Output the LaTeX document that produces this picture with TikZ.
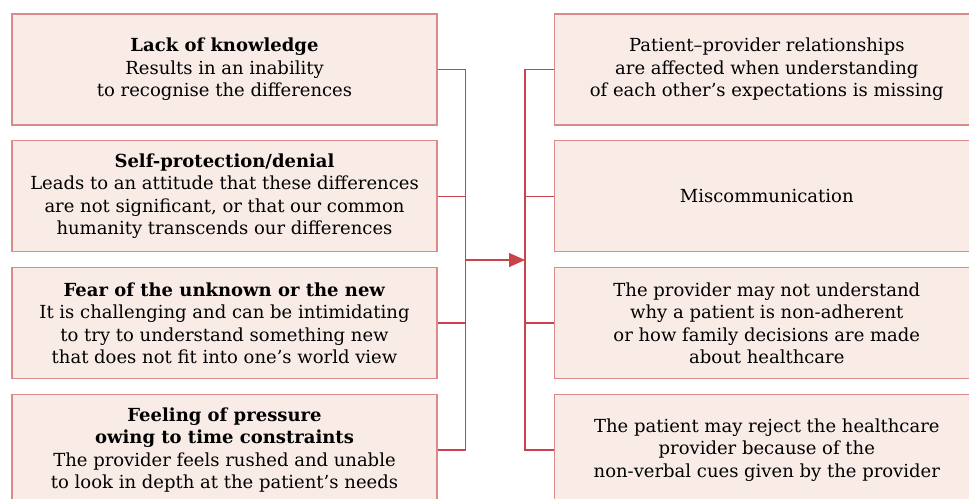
\documentclass[tikz,border=0pt]{standalone}
\usepackage{fontspec}
\setmainfont{DejaVu Serif}
\usepackage{xcolor}
\usetikzlibrary{arrows.meta, positioning}
\definecolor{boxfill}{HTML}{F9ECE7}
\definecolor{boxline}{HTML}{D98A8A}
\definecolor{linkred}{HTML}{C8444A}

\begin{document}
\begin{tikzpicture}[
    x=1pt, y=-1pt,
    node distance=14.5pt and 116pt,
    box/.style={draw=boxline, line width=1.3pt, fill=boxfill, minimum width=425pt, minimum height=111pt, align=center, inner sep=0pt, font=\fontsize{18}{22.5}\selectfont},
    link/.style={draw=linkred, line width=1.3pt},
    arrow/.style={-{Triangle[length=16pt, width=14pt]}, line width=1.3pt, color=linkred}
]
\useasboundingbox (0,0) rectangle (969,498);

\node[box] (l1) at (224.5,69.5) {\textbf{Lack of knowledge}\\Results in an inability\\to recognise the differences};
\node[box] (l2) [below=of l1] {\textbf{Self-protection/denial}\\Leads to an attitude that these differences\\are not significant, or that our common\\humanity transcends our differences};
\node[box] (l3) [below=of l2] {\textbf{Fear of the unknown or the new}\\It is challenging and can be intimidating\\to try to understand something new\\that does not fit into one's world view};
\node[box] (l4) [below=of l3] {\textbf{Feeling of pressure}\\\textbf{owing to time constraints}\\The provider feels rushed and unable\\to look in depth at the patient's needs};

\node[box] (r1) [right=of l1] {Patient--provider relationships\\are affected when understanding\\of each other's expectations is missing};
\node[box] (r2) [below=of r1] {Miscommunication};
\node[box] (r3) [below=of r2] {The provider may not understand\\why a patient is non-adherent\\or how family decisions are made\\about healthcare};
\node[box] (r4) [below=of r3] {The patient may reject the healthcare\\provider because of the\\non-verbal cues given by the provider};

\coordinate (jl) at (465.5,260);
\coordinate (jr) at (525,260);

\draw[link] (l1.east) -| (jl) |- (l4.east);
\draw[link] (l2.east) -- (l2.east -| jl);
\draw[link] (l3.east) -- (l3.east -| jl);
\draw[arrow] (jl) -- (jr);
\draw[link] (r1.west) -| (jr) |- (r4.west);
\draw[link] (r2.west) -- (r2.west -| jr);
\draw[link] (r3.west) -- (r3.west -| jr);
\end{tikzpicture}
\end{document}
